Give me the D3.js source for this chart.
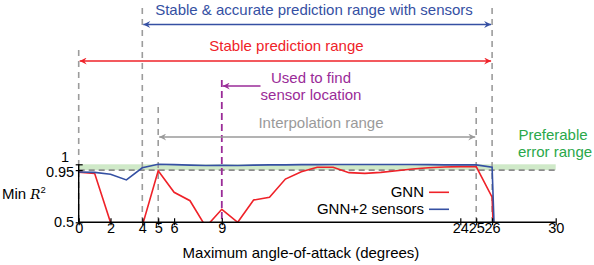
<!DOCTYPE html>
<html>
<head>
<meta charset="utf-8">
<script src="https://cdn.jsdelivr.net/npm/d3@7"></script>
<style>
  body { margin: 0; background: #fff; }
  text { font-family: "Liberation Sans", Arial, sans-serif; }
</style>
</head>
<body>
<div id="chart"></div>
<script>
// data
var angles = d3.range(0, 28);
var gnn = [0.931, 0.922, 0.5, 0.3, 0.47, 0.945, 0.759, 0.686, 0.46, 0.612, 0.5, 0.692, 0.716, 0.873,
           0.936, 0.974, 0.974, 0.928, 0.922, 0.93, 0.945, 0.96, 0.97, 0.977, 0.98, 0.98, 0.716, -3];
var gnnSensors = [0.934, 0.93, 0.915, 0.865, 0.97, 1.0, 0.997, 0.993, 0.99, 0.992, 0.99, 0.993, 0.995, 0.995,
                  0.997, 0.997, 0.998, 0.998, 0.998, 0.998, 0.998, 0.998, 0.997, 0.995, 0.995, 0.995, 0.975, -3];
var xTicks = [0, 2, 4, 5, 6, 9, 24, 25, 26, 30];
var yTicks = [0.5, 0.95, 1];
var yTickDy = {0.5: 0, 0.95: 3, 1: -7};
var yTickDx = {0.5: 0, 0.95: 0, 1: -5};
var bounds = [0, 4, 5, 9, 25, 26];

var W = 594, H = 265;
var svg = d3.select("#chart").append("svg").attr("width", W).attr("height", H);

var x = d3.scaleLinear().domain([0, 30]).range([78.7, 555.7]);
var y = d3.scaleLinear().domain([0.5, 1]).range([222.3, 164.3]);

var blue = "#3550a3", red = "#ef2229", purple = "#9a2b98", grey = "#9a9a9a", green = "#2aa84a";
var fs = 15;

var defs = svg.append("defs");
defs.append("clipPath").attr("id", "plot")
  .append("rect").attr("x", x(0)).attr("y", 0).attr("width", x(30) - x(0)).attr("height", y(0.5));

function marker(id, col) {
  defs.append("marker").attr("id", id)
    .attr("viewBox", "0 0 10 10").attr("refX", 10).attr("refY", 5)
    .attr("markerWidth", 10).attr("markerHeight", 7).attr("markerUnits", "userSpaceOnUse")
    .attr("orient", "auto-start-reverse")
    .append("path").attr("d", "M0,0 L10,5 L0,10 L3.5,5 Z").attr("fill", col);
}
marker("aBlue", blue); marker("aRed", red); marker("aPurple", purple); marker("aGrey", grey);

// preferable error band
svg.append("rect")
  .attr("x", x(0)).attr("y", y(1)).attr("width", x(30) - x(0)).attr("height", y(0.95) - y(1))
  .attr("fill", "#cfe9c8");
svg.append("line")
  .attr("x1", x(0)).attr("x2", x(30)).attr("y1", y(0.95)).attr("y2", y(0.95))
  .attr("stroke", "#8c8c8c").attr("stroke-width", 1.6).attr("stroke-dasharray", "6,4");

// vertical dashed guides
var guideTop = {0: 50, 4: 8, 5: 107, 9: 80, 25: 107, 26: 8};
svg.selectAll("line.guide").data(bounds).enter().append("line")
  .attr("class", "guide")
  .attr("x1", d => x(d)).attr("x2", d => x(d))
  .attr("y1", d => guideTop[d]).attr("y2", y(0.5))
  .attr("stroke", d => d == 9 ? purple : "#9c9c9c")
  .attr("stroke-width", d => d == 9 ? 1.8 : 1.6)
  .attr("stroke-dasharray", d => d == 9 ? "7,4" : "6,5");

// lines
var line = d3.line().x((d, i) => x(angles[i])).y(d => y(d));
var g = svg.append("g").attr("clip-path", "url(#plot)");
g.append("path").datum(gnn).attr("d", line).attr("fill", "none").attr("stroke", red).attr("stroke-width", 1.6);
g.append("path").datum(gnnSensors).attr("d", line).attr("fill", "none").attr("stroke", blue).attr("stroke-width", 1.6);

// axes
var xAxis = svg.append("g").attr("transform", "translate(0," + y(0.5) + ")")
  .call(d3.axisBottom(x).tickValues(xTicks).tickSize(3).tickFormat(d3.format("d")));
xAxis.select(".domain").attr("d", "M" + x(0) + ",0H" + x(30)).attr("stroke-width", 1.4);
xAxis.selectAll(".tick line").attr("y1", -4).attr("y2", 3).attr("stroke-width", 1.2);
xAxis.selectAll(".tick text").attr("font-size", 14.5).attr("font-family", "Liberation Sans")
  .attr("fill", "#000").attr("dy", "0.7em").attr("y", 1);

var yAxis = svg.append("g").attr("transform", "translate(" + x(0) + ",0)")
  .call(d3.axisLeft(y).tickValues(yTicks).tickSize(3).tickFormat(d => d3.format("")(d)));
yAxis.select(".domain").attr("d", "M0," + y(0.5) + "V" + y(1)).attr("stroke-width", 1.4);
yAxis.selectAll(".tick line").attr("x1", -3).attr("x2", 4).attr("stroke-width", 1.2);
yAxis.selectAll(".tick text").attr("font-size", 14.5).attr("font-family", "Liberation Sans").attr("fill", "#000")
  .attr("x", d => -4.5 + yTickDx[d]).attr("dy", d => yTickDy[d] + "px")
  .attr("dominant-baseline", "middle");

// axis titles
svg.append("text").attr("x", 301).attr("y", 258).attr("text-anchor", "middle")
  .attr("font-size", fs).text("Maximum angle-of-attack (degrees)");
var yl = svg.append("text").attr("x", 2).attr("y", 199).attr("font-size", fs);
yl.append("tspan").text("Min ");
yl.append("tspan").attr("font-family", "DejaVu Serif").attr("font-style", "italic").attr("font-size", 13.5).text("R");
yl.append("tspan").attr("font-size", 9.5).attr("dy", -6).text("2");

// range arrows
var arrows = [
  {from: 4, to: 26, yy: 24.5, col: blue, m: "aBlue", both: true},
  {from: 0, to: 26, yy: 61, col: red, m: "aRed", both: true},
  {from: 9, to: 9 + (260.5 - x(9)) / (x(1) - x(0)), yy: 86, col: purple, m: "aPurple", both: false},
  {from: 5, to: 25, yy: 137, col: grey, m: "aGrey", both: true}
];
svg.selectAll("line.arrow").data(arrows).enter().append("line")
  .attr("x1", d => x(d.from) + 1).attr("x2", d => x(d.to) - (d.both ? 1 : 0))
  .attr("y1", d => d.yy).attr("y2", d => d.yy)
  .attr("stroke", d => d.col).attr("stroke-width", 1.6)
  .attr("marker-start", d => "url(#" + d.m + ")")
  .attr("marker-end", d => d.both ? "url(#" + d.m + ")" : null);

// annotations
var notes = [
  {t: "Stable & accurate prediction range with sensors", x: 314, y: 14.5, col: blue, a: "middle"},
  {t: "Stable prediction range", x: 286.5, y: 51, col: red, a: "middle"},
  {t: "Used to find", x: 311, y: 83, col: purple, a: "middle"},
  {t: "sensor location", x: 311, y: 100, col: purple, a: "middle"},
  {t: "Interpolation range", x: 321, y: 128, col: grey, a: "middle"},
  {t: "Preferable", x: 553, y: 140, col: green, a: "middle"},
  {t: "error range", x: 555, y: 157, col: green, a: "middle"}
];
svg.selectAll("text.note").data(notes).enter().append("text")
  .attr("x", d => d.x).attr("y", d => d.y).attr("text-anchor", d => d.a)
  .attr("fill", d => d.col).attr("font-size", fs).text(d => d.t);

// legend
var legend = [{t: "GNN", col: red, yy: 192.3}, {t: "GNN+2 sensors", col: blue, yy: 209.3}];
var lg = svg.selectAll("g.leg").data(legend).enter().append("g");
lg.append("text").attr("x", 424).attr("y", d => d.yy + 5).attr("text-anchor", "end")
  .attr("font-size", fs).text(d => d.t);
lg.append("line").attr("x1", 429).attr("x2", 449).attr("y1", d => d.yy).attr("y2", d => d.yy)
  .attr("stroke", d => d.col).attr("stroke-width", 1.6);
</script>
</body>
</html>
